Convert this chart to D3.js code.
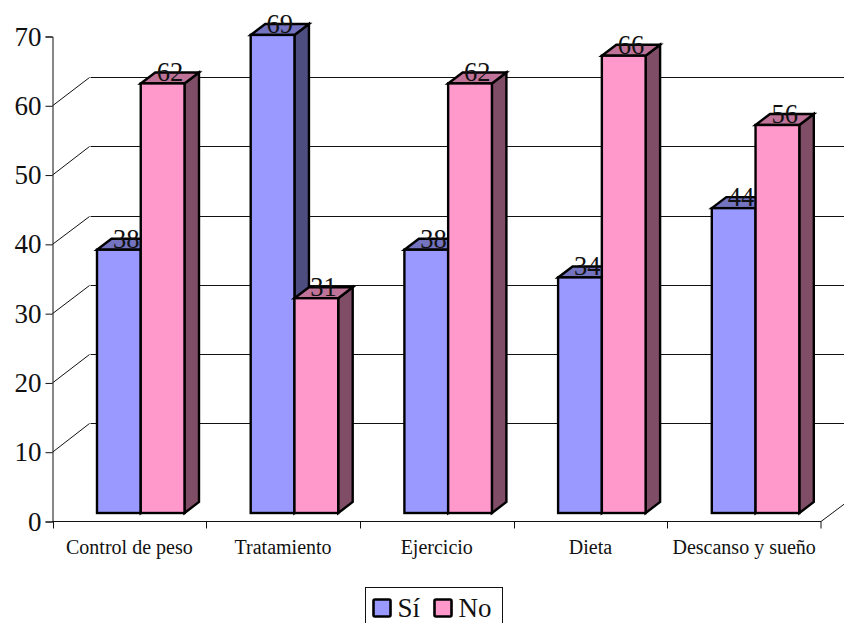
<!DOCTYPE html>
<html>
<head>
<meta charset="utf-8">
<script src="https://cdn.jsdelivr.net/npm/d3@7/dist/d3.min.js"></script>
<style>
html, body { margin: 0; padding: 0; background: #fff; }
svg { display: block; }
text { font-family: "Liberation Serif", serif; fill: #111; }
</style>
</head>
<body>
<svg id="chart" width="844" height="623"></svg>
<script>
const categories = ["Control de peso", "Tratamiento", "Ejercicio", "Dieta", "Descanso y sueño"];
const seriesNames = ["Sí", "No"];
const siValues = [38, 69, 38, 34, 44];
const noValues = [62, 31, 62, 66, 56];
const yTicks = [0, 10, 20, 30, 40, 50, 60, 70];
const gridTicks = [10, 20, 30, 40, 50, 60];
const faceColors = { "Sí": "#9999ff", "No": "#ff99cc" };
const topColors = { "Sí": "#7373bf", "No": "#bf7399" };
const sideColors = { "Sí": "#4d4d80", "No": "#804d66" };

const svg = d3.select("#chart");
const plotLeft = 52.5, plotRight = 821, baseY = 521.5, topY = 36.5;
const wallDx = 37, wallDy = -28.3;   // floor-to-back-wall shear
const barInset = 8.5;                // bars stand this far above the axis line
const depthDx = 14.5, depthDy = -11; // depth of each 3D bar

const y = d3.scaleLinear().domain([0, 70]).range([baseY, topY]);
const x = d3.scaleBand().domain(categories).range([plotLeft, plotRight]);
const xInner = d3.scaleBand().domain(seriesNames)
  .range([44.5, 44.5 + 87.5]);

// Back wall gridlines with their diagonal run down to the value axis
const grid = svg.append("g").attr("fill", "none").attr("stroke", "#111").attr("stroke-width", 1);
gridTicks.forEach(t => {
  const wallY = Math.floor(y(t) + wallDy) + 0.5;
  grid.append("path").attr("d", d3.line()([
    [plotLeft, y(t)], [plotLeft + wallDx, wallY]
  ]));
  grid.append("path").attr("d", d3.line()([
    [plotLeft + wallDx + 1, wallY], [844, wallY]
  ]));
});
grid.append("path").attr("d", d3.line()([
  [plotRight, baseY], [plotRight + 24, baseY - 18]
]));

// Value axis
const yAxis = svg.append("g")
  .attr("transform", `translate(${plotLeft},0)`)
  .call(d3.axisLeft(y).tickValues(yTicks).tickSize(7).tickPadding(4));
yAxis.selectAll("path, line").attr("stroke", "#111").attr("stroke-width", 1);
yAxis.selectAll("text").attr("font-size", 27).attr("fill", "#111")
  .style("font-family", '"Liberation Serif", serif');

// Category axis: ticks fall on the band boundaries, labels on the band centres
const xAxis = svg.append("g");
xAxis.append("line").attr("x1", plotLeft).attr("x2", plotRight)
  .attr("y1", baseY).attr("y2", baseY).attr("stroke", "#111");
categories.concat([null]).forEach(c => {
  const px = Math.round(c === null ? plotRight : x(c)) + (c === null ? 0 : 0.5);
  xAxis.append("line").attr("x1", px).attr("x2", px)
    .attr("y1", baseY).attr("y2", baseY + 7).attr("stroke", "#111");
});
xAxis.selectAll("text").data(categories).join("text")
  .attr("x", d => x(d) + x.bandwidth() / 2)
  .attr("y", 554)
  .attr("text-anchor", "middle")
  .attr("font-size", 20)
  .text(d => d);

// Bars
const rows = categories.flatMap((c, i) => [
  { cat: c, series: "Sí", value: siValues[i] },
  { cat: c, series: "No", value: noValues[i] }
]);
const barG = svg.append("g").attr("stroke", "#000").attr("stroke-width", 2.4)
  .attr("stroke-linejoin", "miter");
rows.forEach(d => {
  const x0 = x(d.cat) + xInner(d.series);
  const x1 = x0 + xInner.bandwidth();
  const yTop = y(d.value) - barInset;
  const yBot = baseY - barInset;
  barG.append("path").attr("fill", sideColors[d.series]).attr("d", d3.line()([
    [x1, yTop], [x1 + depthDx, yTop + depthDy], [x1 + depthDx, yBot + depthDy], [x1, yBot]
  ]) + "Z");
  barG.append("path").attr("fill", topColors[d.series]).attr("d", d3.line()([
    [x0, yTop], [x0 + depthDx, yTop + depthDy], [x1 + depthDx, yTop + depthDy], [x1, yTop]
  ]) + "Z");
  barG.append("rect").attr("fill", faceColors[d.series])
    .attr("x", x0).attr("y", yTop).attr("width", x1 - x0).attr("height", yBot - yTop);
});

// Value labels sit over the top face of each bar
svg.append("g").selectAll("text").data(rows).join("text")
  .attr("x", d => x(d.cat) + xInner(d.series) + xInner.bandwidth() / 2 + depthDx / 2)
  .attr("y", d => y(d.value) - barInset - 2)
  .attr("text-anchor", "middle")
  .attr("font-size", 26.5)
  .text(d => d.value);

// Legend
const legend = svg.append("g");
legend.append("rect").attr("x", 365.5).attr("y", 587.5).attr("width", 137).attr("height", 41)
  .attr("fill", "#fff").attr("stroke", "#111");
const legendX = { "Sí": 373.5, "No": 434.5 };
seriesNames.forEach(s => {
  legend.append("rect").attr("x", legendX[s]).attr("y", 599.5).attr("width", 17).attr("height", 17)
    .attr("rx", 1.5).attr("fill", faceColors[s]).attr("stroke", "#000").attr("stroke-width", 2.6);
  legend.append("text").attr("x", legendX[s] + 24).attr("y", 617).attr("font-size", 27).text(s);
});
</script>
</body>
</html>
